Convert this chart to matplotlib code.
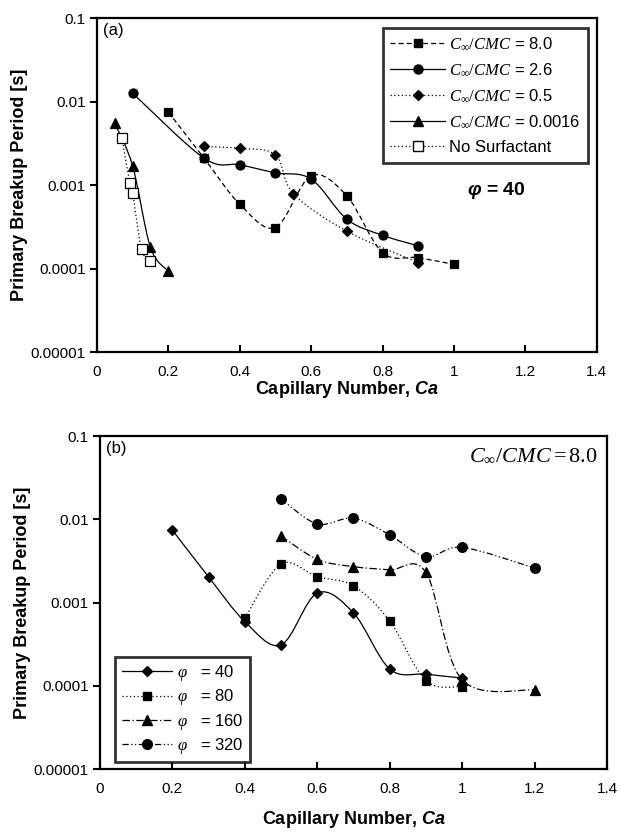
import numpy as np
import matplotlib
matplotlib.use('Agg')
import matplotlib.pyplot as plt
from matplotlib.path import Path
from matplotlib.patches import PathPatch
from matplotlib.lines import Line2D
from matplotlib.ticker import FixedLocator, FixedFormatter, NullLocator

plt.rcParams['font.family'] = ['Liberation Sans', 'DejaVu Sans']
plt.rcParams['mathtext.fontset'] = 'custom'
plt.rcParams['mathtext.rm'] = 'Liberation Serif'
plt.rcParams['mathtext.it'] = 'Liberation Serif:italic'
plt.rcParams['mathtext.bf'] = 'Liberation Sans:bold:italic'
plt.rcParams['mathtext.fallback'] = 'stix'

# Panel (a): phi = 40, varying surfactant concentration
ca_80 = [0.2, 0.3, 0.4, 0.5, 0.6, 0.7, 0.8, 0.9, 1.0]
t_80 = [0.0075, 0.0021, 0.00059, 0.00031, 0.00129, 0.00074, 0.000155, 0.000135, 0.000112]
ca_26 = [0.1, 0.3, 0.4, 0.5, 0.6, 0.7, 0.8, 0.9]
t_26 = [0.0126, 0.0021, 0.00175, 0.0014, 0.00118, 0.00039, 0.00025, 0.000187]
ca_05 = [0.3, 0.4, 0.5, 0.55, 0.7, 0.9]
t_05 = [0.0029, 0.00275, 0.0023, 0.00079, 0.00028, 0.000118]
ca_0016 = [0.05, 0.1, 0.15, 0.2]
t_0016 = [0.0055, 0.0017, 0.00018, 0.000093]
ca_none = [0.07, 0.092, 0.1, 0.125, 0.15]
t_none = [0.0037, 0.00107, 0.00081, 0.00017, 0.000123]

# Panel (b): C/CMC = 8.0, varying phi
ca_p40 = [0.2, 0.3, 0.4, 0.5, 0.6, 0.7, 0.8, 0.9, 1.0]
t_p40 = [0.0074, 0.00203, 0.00059, 0.00031, 0.0013, 0.00075, 0.000159, 0.000138, 0.000124]
ca_p80 = [0.4, 0.5, 0.6, 0.7, 0.8, 0.9, 1.0]
t_p80 = [0.00065, 0.0029, 0.00204, 0.00159, 0.0006, 0.000115, 0.000098]
ca_p160 = [0.5, 0.6, 0.7, 0.8, 0.9, 1.0, 1.2]
t_p160 = [0.0063, 0.0033, 0.0027, 0.00247, 0.0023, 0.000118, 0.000089]
ca_p320 = [0.5, 0.6, 0.7, 0.8, 0.9, 1.0, 1.2]
t_p320 = [0.0175, 0.0088, 0.0103, 0.0065, 0.00355, 0.0046, 0.0026]

y_ticks = [1e-5, 1e-4, 1e-3, 1e-2, 1e-1]
y_labels = ['0.00001', '0.0001', '0.001', '0.01', '0.1']
x_ticks = [0, 0.2, 0.4, 0.6, 0.8, 1.0, 1.2, 1.4]
x_labels = ['0', '0.2', '0.4', '0.6', '0.8', '1', '1.2', '1.4']


def smooth_path(x, y):
    # Excel-like smoothed line: cubic Bezier segments in (x, log y) space
    px = np.asarray(x, float)
    py = np.log10(np.asarray(y, float))
    n = len(px)
    verts = [(px[0], py[0])]
    codes = [Path.MOVETO]
    for i in range(n - 1):
        i0 = max(i - 1, 0)
        i3 = min(i + 2, n - 1)
        c1 = (px[i] + (px[i + 1] - px[i0]) / 6, py[i] + (py[i + 1] - py[i0]) / 6)
        c2 = (px[i + 1] - (px[i3] - px[i]) / 6, py[i + 1] - (py[i3] - py[i]) / 6)
        verts += [c1, c2, (px[i + 1], py[i + 1])]
        codes += [Path.CURVE4] * 3
    verts = np.array(verts)
    verts[:, 1] = 10 ** verts[:, 1]
    return Path(verts, codes)


def draw_series(ax, x, y, ls, marker, ms, mfc='black', lw=0.9):
    ax.add_patch(PathPatch(smooth_path(x, y), fill=False, edgecolor='black',
                           linestyle=ls, linewidth=lw, zorder=2))
    ax.plot(x, y, linestyle='none', marker=marker, markersize=ms,
            markerfacecolor=mfc, markeredgecolor='black', markeredgewidth=0.9, zorder=3)
    return Line2D([], [], color='black', linestyle=ls, linewidth=lw, marker=marker,
                  markersize=ms, markerfacecolor=mfc, markeredgecolor='black')


def style_axes(ax, tag, xpad):
    ax.set_yscale('log')
    ax.set_xlim(0, 1.4)
    ax.set_ylim(1e-5, 1e-1)
    ax.yaxis.set_major_locator(FixedLocator(y_ticks))
    ax.yaxis.set_major_formatter(FixedFormatter(y_labels))
    ax.yaxis.set_minor_locator(NullLocator())
    ax.set_xticks(x_ticks)
    ax.set_xticklabels(x_labels)
    for s in ax.spines.values():
        s.set_linewidth(1.6)
    ax.tick_params(axis='x', direction='in', length=5, width=1.5, labelsize=11, pad=9)
    ax.tick_params(axis='y', direction='out', length=5, width=1.5, labelsize=11, pad=3)
    ax.set_xlabel(r'Capillary Number, $\mathbf{Ca}$', fontsize=13, fontweight='bold', labelpad=xpad)
    ax.set_ylabel('Primary Breakup Period [s]', fontsize=13, fontweight='bold', labelpad=2)
    ax.text(0.012, 0.985, tag, transform=ax.transAxes, fontsize=12, va='top', ha='left')


fig = plt.figure(figsize=(6.21, 8.35), dpi=100)
ax1 = fig.add_axes([0.156, 0.5784, 0.805, 0.40])
ax2 = fig.add_axes([0.161, 0.0790, 0.8164, 0.3988])

style_axes(ax1, '(a)', 0)
h1 = [
    draw_series(ax1, ca_80, t_80, (0, (4, 2.5)), 's', 5.5),
    draw_series(ax1, ca_26, t_26, '-', 'o', 6.5),
    draw_series(ax1, ca_05, t_05, (0, (1, 2)), 'D', 5),
    draw_series(ax1, ca_0016, t_0016, '-', '^', 6.5),
    draw_series(ax1, ca_none, t_none, (0, (1, 2)), 's', 7, mfc='white'),
]
lab1 = [r'$C_\infty/CMC$ = 8.0', r'$C_\infty/CMC$ = 2.6', r'$C_\infty/CMC$ = 0.5',
        r'$C_\infty/CMC$ = 0.0016', 'No Surfactant']
leg1 = ax1.legend(h1, lab1, loc='upper right', bbox_to_anchor=(0.982, 0.97), fontsize=12,
                  frameon=True, fancybox=False, edgecolor='black', handlelength=3.3,
                  handletextpad=0.2, labelspacing=0.6, borderpad=0.45, borderaxespad=0)
leg1.get_frame().set_linewidth(2.0)
ax1.text(0.74, 0.485, r'$\mathbf{\varphi}$ = 40', transform=ax1.transAxes,
         fontsize=14, fontweight='bold', ha='left', va='center')

style_axes(ax2, '(b)', 10)
h2 = [
    draw_series(ax2, ca_p40, t_p40, '-', 'D', 5.5),
    draw_series(ax2, ca_p80, t_p80, (0, (1, 2)), 's', 6),
    draw_series(ax2, ca_p160, t_p160, (0, (6, 2, 1, 2)), '^', 6.5),
    draw_series(ax2, ca_p320, t_p320, (0, (5, 2, 1, 2, 1, 2)), 'o', 7),
]
lab2 = [r'$\varphi$   = 40', r'$\varphi$   = 80', r'$\varphi$   = 160', r'$\varphi$   = 320']
leg2 = ax2.legend(h2, lab2, loc='lower left', bbox_to_anchor=(0.03, 0.02), fontsize=12,
                  frameon=True, fancybox=False, edgecolor='black', handlelength=3.0,
                  handletextpad=0.3, labelspacing=0.25, borderpad=0.4, borderaxespad=0)
leg2.get_frame().set_linewidth(2.0)
ax2.text(0.982, 0.975, r'$C_\infty/CMC = 8.0$', transform=ax2.transAxes,
         fontsize=16, ha='right', va='top')

fig.savefig('out.png', dpi=100)
